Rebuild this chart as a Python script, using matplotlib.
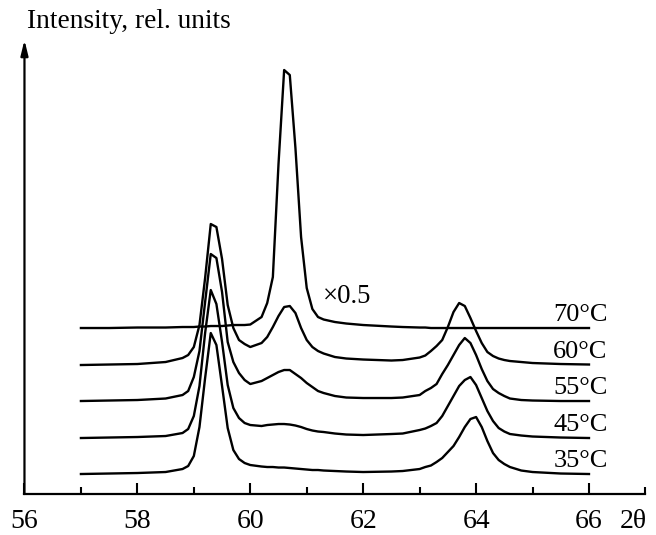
import matplotlib
matplotlib.use("Agg")
import matplotlib.pyplot as plt

plt.rcParams['font.family'] = ['Liberation Serif', 'DejaVu Serif']

# 2theta grid (degrees)
two_theta = [57.0, 57.5, 58.0, 58.5, 58.8, 58.9, 59.0, 59.1, 59.2, 59.3, 59.4,
             59.5, 59.6, 59.7, 59.8, 59.9, 60.0, 60.2, 60.3, 60.4, 60.5,
             60.6, 60.7, 60.8, 60.9, 61.0, 61.1, 61.2, 61.3, 61.5, 61.7,
             62.0, 62.5, 62.7, 63.0, 63.1, 63.2, 63.3, 63.4, 63.5, 63.6,
             63.7, 63.8, 63.9, 64.0, 64.1, 64.2, 64.3, 64.4, 64.5, 64.6,
             64.8, 65.0, 65.5, 66.0]

# intensities above each pattern's own baseline (rel. units)
i_35 = [0.0, 0.05, 0.1, 0.2, 0.5, 0.8, 1.8, 4.7, 9.6, 14.1, 12.9,
        8.8, 4.6, 2.4, 1.5, 1.1, 0.9, 0.75, 0.7, 0.7, 0.65,
        0.65, 0.6, 0.55, 0.5, 0.45, 0.4, 0.4, 0.35, 0.3, 0.25,
        0.2, 0.25, 0.3, 0.5, 0.7, 0.85, 1.2, 1.6, 2.2, 2.8,
        3.7, 4.7, 5.5, 5.7, 4.7, 3.3, 2.1, 1.4, 1.0, 0.7,
        0.35, 0.2, 0.05, 0.0]
i_45 = [0.0, 0.05, 0.1, 0.2, 0.5, 0.9, 2.2, 5.2, 10.5, 14.8, 13.4,
        9.6, 5.3, 3.0, 2.0, 1.5, 1.3, 1.2, 1.3, 1.35, 1.4,
        1.4, 1.35, 1.25, 1.1, 0.9, 0.75, 0.65, 0.6, 0.45, 0.35,
        0.3, 0.4, 0.45, 0.8, 0.95, 1.2, 1.5, 2.2, 3.2, 4.2,
        5.2, 5.8, 6.1, 5.3, 4.0, 2.7, 1.7, 1.0, 0.65, 0.4,
        0.25, 0.15, 0.05, 0.0]
i_55 = [0.0, 0.05, 0.1, 0.25, 0.6, 1.0, 2.4, 5.0, 9.9, 14.7, 14.3,
        10.9, 5.9, 3.9, 2.8, 2.1, 1.7, 2.0, 2.3, 2.6, 2.9,
        3.1, 3.1, 2.7, 2.3, 1.8, 1.4, 1.0, 0.8, 0.5, 0.35,
        0.3, 0.3, 0.35, 0.6, 1.0, 1.3, 1.7, 2.7, 3.6, 4.6,
        5.6, 6.3, 5.8, 4.6, 3.2, 2.0, 1.2, 0.8, 0.5, 0.25,
        0.1, 0.05, 0.0, 0.0]
i_60 = [0.0, 0.05, 0.1, 0.3, 0.7, 1.0, 1.8, 4.0, 8.7, 14.1, 13.8,
        10.6, 6.0, 3.7, 2.5, 2.1, 1.8, 2.2, 2.8, 3.8, 4.9,
        5.8, 5.9, 5.2, 3.7, 2.5, 1.8, 1.4, 1.15, 0.8, 0.65,
        0.55, 0.45, 0.5, 0.75, 0.95, 1.4, 1.9, 2.5, 3.8, 5.3,
        6.2, 5.9, 4.7, 3.4, 2.2, 1.3, 0.9, 0.65, 0.5, 0.4,
        0.3, 0.2, 0.1, 0.05]
# 70 C pattern is drawn at x0.5
i_70 = [0.0, 0.0, 0.05, 0.05, 0.1, 0.1, 0.1, 0.15, 0.15, 0.2, 0.2,
        0.2, 0.25, 0.3, 0.3, 0.3, 0.35, 1.1, 2.5, 5.1, 16.4,
        25.8, 25.3, 18.0, 9.1, 4.0, 1.9, 1.1, 0.85, 0.6, 0.45,
        0.3, 0.15, 0.1, 0.05, 0.05, 0.0, 0.0, 0.0, 0.0, 0.0,
        0.0, 0.0, 0.0, 0.0, 0.0, 0.0, 0.0, 0.0, 0.0, 0.0,
        0.0, 0.0, 0.0, 0.0]

series = [i_35, i_45, i_55, i_60, i_70]
labels = ['35°C', '45°C', '55°C', '60°C', '70°C']
offsets = [2.0, 5.6, 9.3, 12.9, 16.6]

fig = plt.figure(figsize=(6.56, 5.35), dpi=100)
ax = fig.add_axes([0.0373, 0.0766, 0.9466, 0.8486])

for vals, lab, off in zip(series, labels, offsets):
    ax.plot(two_theta, [v + off for v in vals], color='black', lw=1.7,
            solid_joinstyle='round')
    ax.text(66.33, off + 0.75, lab, ha='right', va='baseline', fontsize=19)

ax.text(61.28, 19.1, '×0.5', ha='left', va='baseline', fontsize=19.3)

ax.set_xlim(56, 67)
ax.set_ylim(0, 45.4)

for s in ['top', 'right', 'left']:
    ax.spines[s].set_visible(False)
ax.spines['bottom'].set_linewidth(1.6)

ax.set_xticks([56, 58, 60, 62, 64, 66])
ax.set_xticklabels(['56', '58', '60', '62', '64', '66'])
ax.set_xticks([57, 59, 61, 63, 65, 67], minor=True)
ax.tick_params(axis='x', which='major', direction='in', length=8, width=1.5,
               labelsize=20, pad=11)
ax.tick_params(axis='x', which='minor', direction='in', length=5, width=1.5)
ax.set_yticks([])

ax.annotate('2θ', xy=(66.78, 0), xycoords=('data', 'axes fraction'),
            xytext=(0, -11), textcoords='offset points',
            ha='center', va='top', fontsize=20)

# y axis as an arrow
ax.annotate('', xy=(56, 45.4), xytext=(56, 0), xycoords='data',
            arrowprops=dict(arrowstyle='-|>,head_length=0.9,head_width=0.22',
                            color='black', lw=1.6, shrinkA=0, shrinkB=0),
            annotation_clip=False)

fig.text(27 / 656, 1 - 28 / 535, 'Intensity, rel. units', ha='left',
         va='baseline', fontsize=19.7)

fig.savefig('out.png', dpi=100)
